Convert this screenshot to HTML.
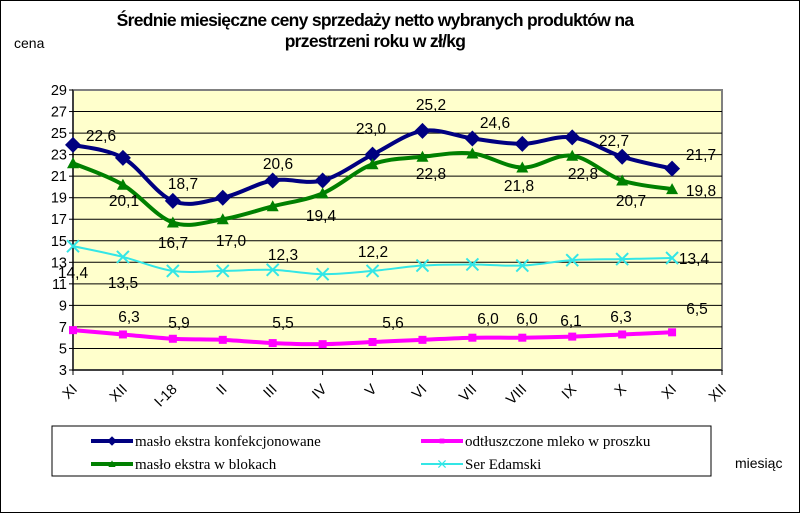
<!DOCTYPE html>
<html><head><meta charset="utf-8">
<style>
html,body{margin:0;padding:0;background:#fff;}
#wrap{position:relative;width:798px;height:511px;border:1px solid #000;overflow:hidden;font-family:"Liberation Sans",sans-serif;}
</style></head>
<body>
<div id="wrap">
<svg id="chart" width="798" height="511" xmlns="http://www.w3.org/2000/svg">
<text x="374" y="25" text-anchor="middle" font-size="17.5" font-weight="bold" letter-spacing="-0.7">Średnie miesięczne ceny sprzedaży netto  wybranych produktów na</text>
<text x="374" y="46" text-anchor="middle" font-size="17.5" font-weight="bold" letter-spacing="-0.7">przestrzeni roku w zł/kg</text>
<text x="13" y="47" font-size="14">cena</text>
<text x="734" y="467" font-size="14">miesiąc</text>
<g id="plot"></g>
<g id="legend">
<rect x="51" y="425" width="659" height="50" fill="#fff" stroke="#000" stroke-width="1"/>
</g>
</svg>
</div>
<script>
const categories=["XI","XII","I-18","II","III","IV","V","VI","VII","VIII","IX","X","XI","XII"];
const yTicks=[3,5,7,9,11,13,15,17,19,21,23,25,27,29];
const blueVals=[23.9,22.7,18.7,19.0,20.6,20.6,23.0,25.2,24.5,24.0,24.6,22.8,21.7];
const greenVals=[22.2,20.2,16.7,17.0,18.2,19.4,22.1,22.8,23.1,21.8,22.9,20.6,19.8];
const cyanVals=[14.5,13.5,12.2,12.2,12.3,11.9,12.2,12.7,12.8,12.7,13.2,13.3,13.4];
const magentaVals=[6.7,6.3,5.9,5.8,5.5,5.4,5.6,5.8,6.0,6.0,6.1,6.3,6.5];
const blueLabels=["22,6","18,7","20,6","23,0","25,2","24,6","22,7","21,7"];
const greenLabels=["20,1","16,7","17,0","19,4","22,8","21,8","22,8","20,7","19,8"];
const cyanLabels=["14,4","13,5","12,3","12,2","13,4"];
const magentaLabels=["6,3","5,9","5,5","5,6","6,0","6,0","6,1","6,3","6,5"];
// label anchor positions (layout only)
const blueLabelPos=[[100,140],[182,188],[277,168],[370,133],[430,109],[494,127],[613,145],[700,159]];
const greenLabelPos=[[123,205],[172,247],[230,245],[320,220],[430,178],[518,190],[582,178],[630,205],[700,195]];
const cyanLabelPos=[[72,277],[122,287],[282,259],[372,256],[693,263]];
const magentaLabelPos=[[128,321],[178,327],[282,327],[392,327],[487,323],[526,323],[570,325],[620,321],[696,313]];

const L=72,R=721,T=89,B=369,yMin=3,yMax=29;
const NS="http://www.w3.org/2000/svg";
const xs=i=>L+i*(R-L)/(categories.length-1);
const ys=v=>B-(v-yMin)/(yMax-yMin)*(B-T);
const plot=document.getElementById('plot');
function mk(tag,attrs,parent){const e=document.createElementNS(NS,tag);for(const k in attrs)e.setAttribute(k,attrs[k]);(parent||plot).appendChild(e);return e;}

const bg=mk('rect',{x:L,y:T,width:R-L,height:B-T,fill:'#ffffcc',stroke:'#808080','stroke-width':2});


yTicks.forEach(t=>{
  if(t!==yMin&&t!==yMax){const g=mk('line',{x1:L,x2:R,y1:ys(t),y2:ys(t),stroke:'#000','stroke-width':1});
  
  }
  mk('line',{x1:L-4,x2:L,y1:ys(t),y2:ys(t),stroke:'#000'});
  const tx=mk('text',{x:L-6,y:ys(t)+5,'text-anchor':'end','font-size':14.5});
  tx.textContent=t;
  
  
});
mk('line',{x1:L,x2:L,y1:T,y2:B,stroke:'#000'});
mk('line',{x1:L,x2:R,y1:B,y2:B,stroke:'#000'});
categories.forEach((c,i)=>{
  mk('line',{x1:xs(i),x2:xs(i),y1:B,y2:B+5,stroke:'#000'});
  const tx=mk('text',{x:xs(i)+5,y:B+20,'text-anchor':'end','font-size':14.5,transform:`rotate(-45 ${xs(i)+5} ${B+20})`});
  tx.textContent=c;
  
  
});
function path(vals){let d='';const p=vals.map((v,i)=>[xs(i),ys(v)]);
  d='M'+p[0][0]+','+p[0][1];
  for(let i=1;i<p.length;i++){const p0=p[i-2]||p[i-1],p1=p[i-1],p2=p[i],p3=p[i+1]||p[i];const k=0.17;
    d+=` C${p1[0]+(p2[0]-p0[0])*k},${p1[1]+(p2[1]-p0[1])*k} ${p2[0]-(p3[0]-p1[0])*k},${p2[1]-(p3[1]-p1[1])*k} ${p2[0]},${p2[1]}`;}
  return d;}
function marker(type,x,y,col,g){
  if(type==='diamond')return mk('polygon',{points:`${x},${y-8} ${x+8},${y} ${x},${y+8} ${x-8},${y}`,fill:col},g);
  if(type==='tri')return mk('polygon',{points:`${x},${y-6} ${x+6},${y+5} ${x-6},${y+5}`,fill:col},g);
  if(type==='square')return mk('rect',{x:x-4,y:y-4,width:8,height:8,fill:col},g);
  const gg=mk('g',{},g);mk('line',{x1:x-6,y1:y-6,x2:x+6,y2:y+6,stroke:col,'stroke-width':2},gg);mk('line',{x1:x-6,y1:y+6,x2:x+6,y2:y-6,stroke:col,'stroke-width':2},gg);return gg;}
const series=[
 {name:'maslo-konfekcjonowane',vals:blueVals,col:'#000080',w:4,m:'diamond',labels:blueLabels,pos:blueLabelPos},
 {name:'maslo-w-blokach',vals:greenVals,col:'#008000',w:4,m:'tri',labels:greenLabels,pos:greenLabelPos},
 {name:'ser-edamski',vals:cyanVals,col:'#33e6e6',w:2,m:'x',labels:cyanLabels,pos:cyanLabelPos},
 {name:'mleko-w-proszku',vals:magentaVals,col:'#ff00ff',w:4,m:'square',labels:magentaLabels,pos:magentaLabelPos}];
series.forEach(s=>{
  const g=mk('g',{});
  
  
  const ln=mk('path',{d:path(s.vals),fill:'none',stroke:s.col,'stroke-width':s.w},g);
  
  
  s.vals.forEach((v,i)=>{const m=marker(s.m,xs(i),ys(v),s.col,g);
    
    });
  s.labels.forEach((t,i)=>{const tx=mk('text',{x:s.pos[i][0],y:s.pos[i][1],'text-anchor':'middle','font-size':15.5},g);
    tx.textContent=t;
    
    });
});
const leg=document.getElementById('legend');
const legItems=[[0,90,440],[1,90,463],[3,420,440],[2,420,463]];
const legNames=["masło ekstra konfekcjonowane","masło ekstra w blokach","Ser Edamski","odtłuszczone mleko w proszku"];
legItems.forEach(([si,x,y])=>{const s=series[si];
  const g=mk('g',{},leg);
  
  
  mk('line',{x1:x,x2:x+42,y1:y,y2:y,stroke:s.col,'stroke-width':s.w},g);
  marker(s.m,x+21,y,s.col,g).setAttribute('transform',`translate(${x+21},${y}) scale(0.6) translate(${-(x+21)},${-y})`);
  const tx=mk('text',{x:x+44,y:y+5,'font-family':'Liberation Serif','font-size':15},g);
  tx.textContent=legNames[si];
});
</script>
</body></html>
